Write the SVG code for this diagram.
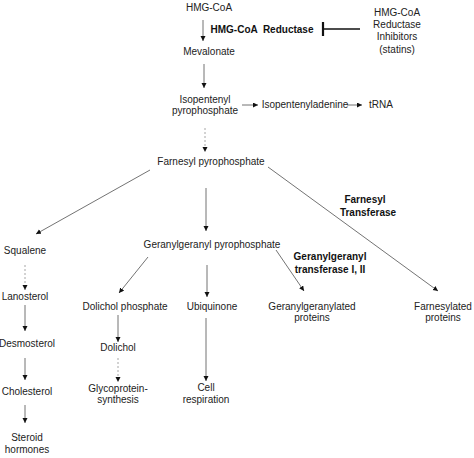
<svg xmlns="http://www.w3.org/2000/svg" width="474" height="458" viewBox="0 0 474 458">
<style>
text{font-family:"Liberation Sans",Arial,sans-serif;font-size:10px;fill:#222;text-anchor:middle}
.b{font-weight:bold;fill:#111}
.l{stroke:#444;stroke-width:0.75;fill:none}
.d{stroke-dasharray:2,2;stroke:#888}
</style>
<defs>
<marker id="ah" markerWidth="7" markerHeight="7" refX="5" refY="2.5" orient="auto" markerUnits="userSpaceOnUse">
<path d="M0,0 L5,2.5 L0,5 z" fill="#111"/>
</marker>
</defs>
<rect width="474" height="458" fill="#fff"/>
<g id="connectors">
<line class="l" x1="203" y1="20" x2="203" y2="41" marker-end="url(#ah)"/>
<line x1="323" y1="22" x2="323" y2="36" stroke="#111" stroke-width="2.2"/>
<line x1="323" y1="29" x2="360" y2="29" stroke="#111" stroke-width="1.6"/>
<line class="l" x1="204" y1="64" x2="204" y2="88" marker-end="url(#ah)"/>
<line class="l" x1="242" y1="105" x2="258" y2="105" marker-end="url(#ah)"/>
<line class="l" x1="347" y1="105" x2="362" y2="105" marker-end="url(#ah)"/>
<line class="l d" x1="205" y1="128" x2="205" y2="152" marker-end="url(#ah)"/>
<line class="l" x1="150" y1="170" x2="36" y2="234" marker-end="url(#ah)"/>
<line class="l" x1="206" y1="188" x2="206" y2="231" marker-end="url(#ah)"/>
<line class="l" x1="268" y1="167" x2="438" y2="291" marker-end="url(#ah)"/>
<line class="l" x1="148" y1="257" x2="119" y2="293" marker-end="url(#ah)"/>
<line class="l" x1="207" y1="265" x2="207" y2="297" marker-end="url(#ah)"/>
<line class="l" x1="276" y1="250" x2="304" y2="291" marker-end="url(#ah)"/>
<line class="l d" x1="25" y1="265" x2="25" y2="290" marker-end="url(#ah)"/>
<line class="l" x1="25" y1="305" x2="25" y2="331" marker-end="url(#ah)"/>
<line class="l" x1="25" y1="358" x2="25" y2="380" marker-end="url(#ah)"/>
<line class="l" x1="25" y1="405" x2="25" y2="423" marker-end="url(#ah)"/>
<line class="l" x1="118" y1="315" x2="118" y2="342" marker-end="url(#ah)"/>
<line class="l d" x1="118" y1="358" x2="118" y2="382" marker-end="url(#ah)"/>
<line class="l" x1="206" y1="318" x2="206" y2="381" marker-end="url(#ah)"/>
</g>
<g id="hmgcoa"><text x="209" y="11">HMG-CoA</text></g>
<g id="reductase"><text class="b" x="262" y="33" xml:space="preserve">HMG-CoA  Reductase</text></g>
<g id="statins"><text x="397" y="16">HMG-CoA</text><text x="397" y="28">Reductase</text><text x="397" y="40">Inhibitors</text><text x="397" y="53">(statins)</text></g>
<g id="mevalonate"><text x="209" y="55">Mevalonate</text></g>
<g id="ipp"><text x="205" y="103">Isopentenyl</text><text x="205" y="114">pyrophosphate</text></g>
<g id="ipa"><text x="305" y="108">Isopentenyladenine</text></g>
<g id="trna"><text x="381" y="108">tRNA</text></g>
<g id="fpp"><text x="211" y="165">Farnesyl pyrophosphate</text></g>
<g id="ftase"><text class="b" x="365" y="203">Farnesyl</text><text class="b" x="368" y="216">Transferase</text></g>
<g id="squalene"><text x="25" y="254">Squalene</text></g>
<g id="ggpp"><text x="212" y="248">Geranylgeranyl pyrophosphate</text></g>
<g id="ggtase"><text class="b" x="330" y="260">Geranylgeranyl</text><text class="b" x="330" y="273">transferase I, II</text></g>
<g id="lanosterol"><text x="25" y="300">Lanosterol</text></g>
<g id="dolp"><text x="125" y="310">Dolichol phosphate</text></g>
<g id="ubiquinone"><text x="212" y="310">Ubiquinone</text></g>
<g id="ggprot"><text x="312" y="310">Geranylgeranylated</text><text x="312" y="321">proteins</text></g>
<g id="fprot"><text x="443" y="310">Farnesylated</text><text x="443" y="321">proteins</text></g>
<g id="desmosterol"><text x="27" y="347">Desmosterol</text></g>
<g id="dolichol"><text x="118" y="351">Dolichol</text></g>
<g id="cholesterol"><text x="27" y="395">Cholesterol</text></g>
<g id="glyco"><text x="118" y="392">Glycoprotein-</text><text x="118" y="403">synthesis</text></g>
<g id="cell"><text x="206" y="391">Cell</text><text x="206" y="403">respiration</text></g>
<g id="steroid"><text x="27" y="441">Steroid</text><text x="27" y="453">hormones</text></g>
</svg>
